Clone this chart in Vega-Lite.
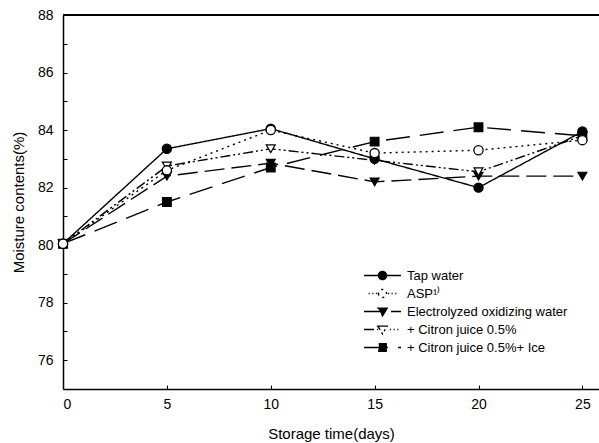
{
  "$schema": "https://vega.github.io/schema/vega-lite/v6.json",
  "width": 536,
  "height": 374,
  "autosize": {"type": "none"},
  "padding": {"left": 63, "top": 15, "right": 0, "bottom": 54},
  "background": "white",
  "config": {
    "view": {"stroke": null},
    "font": "Liberation Sans",
    "axis": {
      "grid": false,
      "domainColor": "black",
      "domainWidth": 1.5,
      "tickColor": "black",
      "tickWidth": 1,
      "labelColor": "black",
      "titleColor": "black",
      "labelFont": "Liberation Sans",
      "titleFont": "Liberation Sans",
      "titleFontWeight": "normal",
      "labelFontSize": 14,
      "titleFontSize": 15
    },
    "legend": {
      "labelFont": "Liberation Sans",
      "labelFontSize": 13,
      "labelColor": "black",
      "labelLimit": 400
    }
  },
  "data": {
    "values": [
      {"day": 0, "series": "Tap water", "value": 80.05},
      {"day": 5, "series": "Tap water", "value": 83.35},
      {"day": 10, "series": "Tap water", "value": 84.05},
      {"day": 15, "series": "Tap water", "value": 83.0},
      {"day": 20, "series": "Tap water", "value": 82.0},
      {"day": 25, "series": "Tap water", "value": 83.95},
      {"day": 0, "series": "ASP¹⁾", "value": 80.05},
      {"day": 5, "series": "ASP¹⁾", "value": 82.6},
      {"day": 10, "series": "ASP¹⁾", "value": 84.0},
      {"day": 15, "series": "ASP¹⁾", "value": 83.2},
      {"day": 20, "series": "ASP¹⁾", "value": 83.3},
      {"day": 25, "series": "ASP¹⁾", "value": 83.65},
      {"day": 0, "series": "Electrolyzed oxidizing water", "value": 80.05},
      {"day": 5, "series": "Electrolyzed oxidizing water", "value": 82.4},
      {"day": 10, "series": "Electrolyzed oxidizing water", "value": 82.85},
      {"day": 15, "series": "Electrolyzed oxidizing water", "value": 82.2},
      {"day": 20, "series": "Electrolyzed oxidizing water", "value": 82.4},
      {"day": 25, "series": "Electrolyzed oxidizing water", "value": 82.4},
      {"day": 0, "series": "+ Citron juice 0.5%", "value": 80.05},
      {"day": 5, "series": "+ Citron juice 0.5%", "value": 82.75},
      {"day": 10, "series": "+ Citron juice 0.5%", "value": 83.35},
      {"day": 15, "series": "+ Citron juice 0.5%", "value": 82.95},
      {"day": 20, "series": "+ Citron juice 0.5%", "value": 82.55},
      {"day": 25, "series": "+ Citron juice 0.5%", "value": 83.8},
      {"day": 0, "series": "+ Citron juice 0.5%+ Ice", "value": 80.05},
      {"day": 5, "series": "+ Citron juice 0.5%+ Ice", "value": 81.5},
      {"day": 10, "series": "+ Citron juice 0.5%+ Ice", "value": 82.7},
      {"day": 15, "series": "+ Citron juice 0.5%+ Ice", "value": 83.6},
      {"day": 20, "series": "+ Citron juice 0.5%+ Ice", "value": 84.1},
      {"day": 25, "series": "+ Citron juice 0.5%+ Ice", "value": 83.8}
    ]
  },
  "encoding": {
    "x": {
      "field": "day",
      "type": "quantitative",
      "scale": {"domain": [0, 25.8], "nice": false, "zero": false},
      "axis": {
        "title": "Storage time(days)",
        "values": [0, 5, 10, 15, 20, 25],
        "tickSize": -4,
        "labelPadding": 12,
        "titlePadding": 15
      }
    },
    "y": {
      "field": "value",
      "type": "quantitative",
      "scale": {"domain": [75, 88], "nice": false, "zero": false},
      "axis": {
        "title": "Moisture contents(%)",
        "values": [76, 77, 78, 79, 80, 81, 82, 83, 84, 85, 86, 87, 88],
        "labelExpr": "datum.value % 2 == 0 ? datum.label : ''",
        "tickSize": -4,
        "labelPadding": 14,
        "titlePadding": 11
      }
    }
  },
  "layer": [
    {
      "mark": {"type": "rule", "color": "black", "strokeWidth": 1.5},
      "encoding": {"y": {"datum": 88}, "x": null}
    },
    {
      "mark": {"type": "point", "stroke": "black", "strokeWidth": 1.4, "opacity": 0, "size": 1},
      "encoding": {
        "shape": {
          "field": "series",
          "type": "nominal",
          "scale": {
            "domain": ["Tap water", "ASP¹⁾", "Electrolyzed oxidizing water", "+ Citron juice 0.5%", "+ Citron juice 0.5%+ Ice"],
            "range": [
              "M-1,0H1M-0.22,0A0.22,0.22 0 1,0 0.22,0A0.22,0.22 0 1,0 -0.22,0Z",
              "M-0.75,0H-0.69M-0.55,0H-0.49M-0.36,0H-0.3M0.3,0H0.36M0.49,0H0.55M0.69,0H0.75M-0.22,0A0.22,0.22 0 1,0 0.22,0A0.22,0.22 0 1,0 -0.22,0Z",
              "M-1,0H1M-0.25,-0.18L0.25,-0.18L0,0.24Z",
              "M-1,0H-0.25M0.4,0H0.46M0.6,0H0.66M0.8,0H0.86M-0.25,-0.18L0.25,-0.18L0,0.24Z",
              "M-1,0H1M-0.2,-0.2H0.2V0.2H-0.2Z"
            ]
          },
          "legend": {
            "title": null,
            "orient": "none",
            "legendX": 300,
            "legendY": 254,
            "padding": 0,
            "clipHeight": 13,
            "rowPadding": 4,
            "labelOffset": 5,
            "symbolSize": 1369,
            "symbolStrokeColor": "black",
            "symbolStrokeWidth": 1.4,
            "encode": {"symbols": {"update": {"stroke": {"value": "black"}, "strokeWidth": {"value": 1.4}, "opacity": {"value": 1}, "size": {"value": 1369}}}}
          }
        },
        "fill": {
          "field": "series",
          "type": "nominal",
          "scale": {
            "domain": ["Tap water", "ASP¹⁾", "Electrolyzed oxidizing water", "+ Citron juice 0.5%", "+ Citron juice 0.5%+ Ice"],
            "range": ["black", "white", "black", "white", "black"]
          },
          "legend": {
            "title": null,
            "orient": "none",
            "legendX": 300,
            "legendY": 254,
            "padding": 0,
            "clipHeight": 13,
            "rowPadding": 4,
            "labelOffset": 5,
            "symbolSize": 1369,
            "symbolStrokeColor": "black",
            "symbolStrokeWidth": 1.4,
            "encode": {"symbols": {"update": {"stroke": {"value": "black"}, "strokeWidth": {"value": 1.4}, "opacity": {"value": 1}, "size": {"value": 1369}}}}
          }
        }
      }
    },
    {
      "mark": {"type": "line", "color": "black", "strokeWidth": 1.4},
      "encoding": {
        "strokeDash": {
          "field": "series",
          "type": "nominal",
          "scale": {
            "domain": ["Tap water", "ASP¹⁾", "Electrolyzed oxidizing water", "+ Citron juice 0.5%", "+ Citron juice 0.5%+ Ice"],
            "range": [[1, 0], [2, 4], [20, 7], [10, 3, 2, 3, 2, 3], [24, 10]]
          },
          "legend": null
        }
      }
    },
    {
      "transform": [{"filter": {"field": "series", "equal": "+ Citron juice 0.5%+ Ice"}}],
      "mark": {"type": "point", "shape": "square", "stroke": "black", "fill": "black", "strokeWidth": 1.2, "size": 75, "opacity": 1}
    },
    {
      "transform": [{"filter": {"field": "series", "equal": "Electrolyzed oxidizing water"}}],
      "mark": {"type": "point", "shape": "triangle-down", "stroke": "black", "fill": "black", "strokeWidth": 1.2, "size": 80, "opacity": 1}
    },
    {
      "transform": [{"filter": {"field": "series", "equal": "+ Citron juice 0.5%"}}],
      "mark": {"type": "point", "shape": "triangle-down", "stroke": "black", "fill": "white", "strokeWidth": 1.2, "size": 80, "opacity": 1}
    },
    {
      "transform": [{"filter": {"field": "series", "equal": "Tap water"}}],
      "mark": {"type": "point", "shape": "circle", "stroke": "black", "fill": "black", "strokeWidth": 1.2, "size": 85, "opacity": 1}
    },
    {
      "transform": [{"filter": {"field": "series", "equal": "ASP¹⁾"}}],
      "mark": {"type": "point", "shape": "circle", "stroke": "black", "fill": "white", "strokeWidth": 1.3, "size": 85, "opacity": 1}
    }
  ]
}
